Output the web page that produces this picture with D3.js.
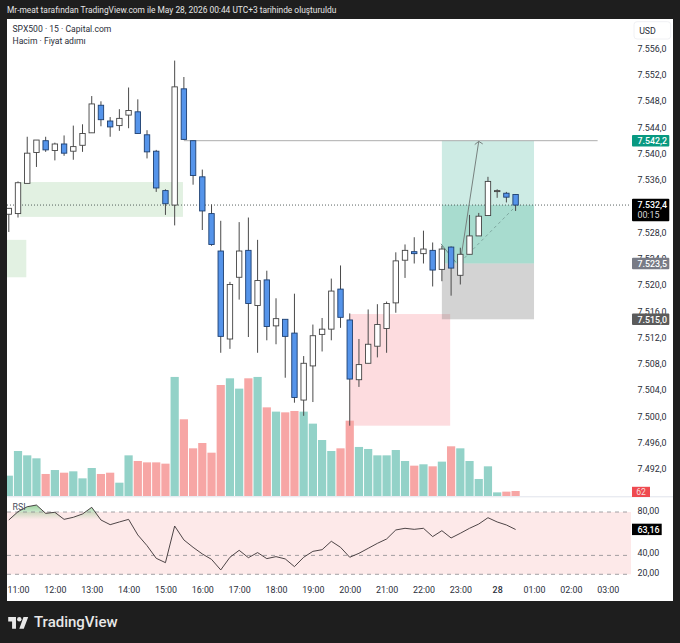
<!DOCTYPE html>
<html><head><meta charset="utf-8">
<script src="https://cdn.jsdelivr.net/npm/d3@7"></script>
<style>html,body{margin:0;padding:0;background:#1e1e1e}svg{display:block}text{font-family:Roboto,"Noto Sans",sans-serif}</style>
</head><body><svg id="c" width="680" height="643"></svg>
<script>
// first candle is 10:45, one candle per 15 minutes
const open=[7531.0,7531.1,7535.7,7540.4,7542.2,7540.7,7541.7,7540.6,7541.5,7543.4,7547.6,7545.2,7544.5,7546.1,7546.6,7543.1,7540.6,7534.6,7532.4,7550.1,7542.2,7536.7,7531.1,7525.4,7512.0,7521.4,7525.5,7517.1,7521.0,7514.0,7515.0,7512.9,7502.7,7507.9,7512.7,7513.5,7519.6,7514.9,7505.8,7508.3,7510.9,7513.6,7517.5,7524.0,7525.3,7525.0,7525.5,7522.6,7526.0,7521.7,7524.9,7527.7,7530.8,7534.5,7534.2,7534.0];
const high=[7531.9,7536.0,7542.8,7542.3,7542.8,7541.9,7543.0,7544.5,7544.7,7549.0,7548.2,7545.8,7547.0,7550.3,7548.5,7543.8,7540.8,7534.8,7554.4,7551.9,7542.2,7537.8,7532.5,7530.0,7520.7,7529.8,7530.5,7527.1,7522.4,7518.2,7515.0,7518.9,7509.4,7514.2,7515.2,7521.2,7523.2,7515.9,7512.0,7516.5,7517.3,7517.7,7525.2,7526.4,7527.5,7528.5,7526.7,7526.2,7526.1,7525.9,7530.9,7531.2,7536.7,7534.8,7534.4,7534.0];
const low=[7528.3,7530.5,7535.7,7538.2,7540.5,7539.2,7539.9,7539.3,7540.5,7543.4,7544.4,7542.8,7543.7,7544.1,7543.3,7539.5,7534.4,7530.9,7529.3,7542.3,7535.5,7528.6,7526.2,7509.9,7510.5,7518.0,7512.3,7509.9,7511.8,7511.2,7506.1,7502.3,7500.3,7502.4,7510.1,7511.8,7513.7,7498.8,7504.7,7508.3,7509.2,7509.9,7516.0,7521.3,7523.5,7523.5,7520.0,7520.8,7518.6,7520.3,7524.9,7527.7,7530.8,7533.5,7532.8,7531.5];
const close=[7531.9,7535.8,7540.3,7542.3,7540.8,7541.7,7540.3,7541.3,7543.3,7547.8,7545.4,7544.3,7545.6,7546.8,7543.3,7540.5,7535.0,7532.6,7550.4,7542.4,7536.9,7531.5,7526.4,7512.4,7520.3,7525.4,7517.4,7520.9,7513.9,7515.1,7512.4,7503.1,7508.3,7512.5,7513.5,7519.3,7515.3,7505.9,7508.1,7511.2,7514.2,7517.4,7523.9,7525.5,7525.0,7525.7,7522.5,7525.7,7522.8,7524.9,7527.7,7530.7,7536.0,7534.6,7533.6,7532.4];
const volume=[252,558,504,467,273,322,289,306,219,347,273,289,165,504,434,417,417,401,1476,951,591,657,537,1376,1459,1331,1459,1476,1099,1046,1037,1054,1046,897,694,558,591,934,608,583,504,504,570,434,376,393,368,426,616,591,434,211,368,45,54,62];
const rsi=[72.3,80.3,85.1,86.7,78.7,79.7,72.9,74.9,78.1,84.5,72.3,67.8,70.4,72.9,57.9,47.6,35.4,31.2,66.5,53.1,46.0,39.6,34.4,24.2,36.4,43.1,36.0,40.9,35.1,37.0,34.8,27.4,36.4,42.1,43.7,51.8,46.0,36.4,40.2,45.0,49.8,54.0,62.7,64.3,63.3,64.3,56.3,62.0,55.0,59.5,64.3,68.4,74.5,70.4,67.5,63.16];
const priceTicks=[7556,7552,7548,7544,7540,7536,7528,7524,7520,7516,7512,7508,7504,7500,7496,7492];
const rsiTicks=[80,40,20];
const rsiBands=[80,38.2,20];
const timeIdx=[1,5,9,13,17,21,25,29,33,37,41,45,49,53,57,61,65];
const timeLabels=["11:00","12:00","13:00","14:00","15:00","16:00","17:00","18:00","19:00","20:00","21:00","22:00","23:00","28","01:00","02:00","03:00"];
// zones: [index from, index to, price top, price bottom]
const greenZones=[[1.2,18.9,7535.9,7530.6],[-1,1.9,7527.1,7521.4]];
const pinkZone=[37,47.9,7515.8,7498.8];
const toolSpan=[47,57];
const target=7542.2, entry=7523.5, stop=7515.0, last=7532.4;
const highLine=[19,63.9,7542.2];
const arrowPts=[[46.9,7526.5],[48.5,7523.7]];
const arrowMain=[[49,7523.7],[51,7542.1]];
const dashPts=[[49,7523.7],[55,7532.2]];

const W=680,H=643,L=7,T=19,R=673,B=601,PR=631;
const svg=d3.select("#c");
const x=d3.scaleLinear().domain([0,55]).range([8.8,515.6]);
const y=d3.scaleLinear().domain([7542.2,7515]).range([140.7,319.3]);
const yV=d3.scaleLinear().domain([0,1500]).range([496,375]);
const yR=d3.scaleLinear().domain([80,20]).range([512,574.3]);
const bw=x(1)-x(0);

svg.append("rect").attr("width",W).attr("height",H).attr("fill","#1e1e1e");
svg.append("rect").attr("x",L).attr("y",T).attr("width",R-L).attr("height",B-T).attr("fill","#fff");
const defs=svg.append("defs");
defs.append("clipPath").attr("id","plot").append("rect").attr("x",L).attr("y",T).attr("width",PR-L).attr("height",B-T);
const gr=defs.append("linearGradient").attr("id","ob").attr("x1",0).attr("x2",0).attr("y1",0).attr("y2",1);
gr.append("stop").attr("offset","0%").attr("stop-color","#4caf50").attr("stop-opacity",.55);
gr.append("stop").attr("offset","100%").attr("stop-color","#4caf50").attr("stop-opacity",0);

svg.append("text").attr("x",7).attr("y",12.8).attr("fill","#e6e6e6").attr("font-size",8.4)
  .text("Mr-meat tarafından TradingView.com ile May 28, 2026 00:44 UTC+3 tarihinde oluşturuldu");

const g=svg.append("g").attr("clip-path","url(#plot)");
const zr=(sel,d,fill,op)=>sel.append("rect").attr("x",x(d[0])).attr("width",x(d[1])-x(d[0])).attr("y",y(d[2])).attr("height",y(d[3])-y(d[2])).attr("fill",fill).attr("fill-opacity",op);
greenZones.forEach(z=>zr(g,z,"#e2f1e2",1));
zr(g,pinkZone,"#fddcdf",1);

// volume
g.selectAll("rect.v").data(volume).join("rect").attr("class","v")
  .attr("x",(d,i)=>x(i)-bw/2+.5).attr("width",bw-1).attr("y",d=>yV(d)).attr("height",d=>yV(0)-yV(d))
  .attr("fill",(d,i)=>close[i]>=open[i]?"#93d2c8":"#f7a6a5");
svg.append("line").attr("x1",L).attr("x2",R).attr("y1",496.8).attr("y2",496.8).attr("stroke","#e0e3eb");

// position tool
zr(g,[toolSpan[0],toolSpan[1],target,last],"#cdebe4",1);
zr(g,[toolSpan[0],toolSpan[1],last,entry],"#a8dccf",1);
zr(g,[toolSpan[0],toolSpan[1],entry,stop],"#787878",.33);

g.append("line").attr("x1",x(highLine[0])).attr("x2",x(highLine[1])).attr("y1",y(highLine[2])).attr("y2",y(highLine[2])).attr("stroke","#adadad").attr("stroke-width",1);
g.append("line").attr("x1",L).attr("x2",PR).attr("y1",y(last)).attr("y2",y(last)).attr("stroke","#2f3a38").attr("stroke-width",.8).attr("stroke-dasharray","1 2");

const ln=d3.line().x(d=>x(d[0])).y(d=>y(d[1]));
g.append("path").attr("d",ln(arrowPts)).attr("fill","none").attr("stroke","#6f8f88").attr("stroke-width",1);
g.append("path").attr("d",ln(dashPts)).attr("fill","none").attr("stroke","#7fa8a0").attr("stroke-width",1).attr("stroke-dasharray","3 3");
g.append("path").attr("d",ln(arrowMain)).attr("fill","none").attr("stroke","#77807e").attr("stroke-width",1);
const tip=arrowMain[1];
g.append("path").attr("d",d3.line()([[x(tip[0])-4,y(tip[1])+3.2],[x(tip[0]),y(tip[1])],[x(tip[0])+4,y(tip[1])+2.6]])).attr("fill","none").attr("stroke","#77807e").attr("stroke-width",1);

// candles
const idx=d3.range(open.length);
g.selectAll("line.w").data(idx).join("line").attr("class","w")
  .attr("x1",i=>x(i)).attr("x2",i=>x(i)).attr("y1",i=>y(high[i])).attr("y2",i=>y(low[i]))
  .attr("stroke","#4a4a4a").attr("stroke-width",1);
g.selectAll("rect.b").data(idx).join("rect").attr("class","b")
  .attr("x",i=>x(i)-2.7).attr("width",5.4)
  .attr("y",i=>y(Math.max(open[i],close[i])))
  .attr("height",i=>Math.max(1,Math.abs(y(open[i])-y(close[i]))))
  .attr("fill",i=>close[i]>=open[i]?"#fff":"#5594ea")
  .attr("stroke",i=>close[i]>=open[i]?"#444":"#1d3f70").attr("stroke-width",.9);

// RSI panel
g.append("rect").attr("x",L).attr("width",PR-L).attr("y",yR(80)).attr("height",yR(20)-yR(80)).attr("fill","#fde9e9");
const obBase=73;
const obIdx=idx.filter(i=>i<=10);
g.append("path").attr("d",d3.area().x(i=>x(i)).y0(yR(obBase)).y1(i=>yR(Math.max(rsi[i],obBase)))(obIdx)).attr("fill","url(#ob)");
g.selectAll("line.rb").data(rsiBands).join("line").attr("class","rb").attr("x1",L).attr("x2",PR)
  .attr("y1",d=>yR(d)).attr("y2",d=>yR(d)).attr("stroke","#8a8a8f").attr("stroke-width",.8).attr("stroke-dasharray","4 4");
g.append("path").attr("d",d3.line().x((d,i)=>x(i)).y(d=>yR(d))(rsi)).attr("fill","none").attr("stroke","#3a3234").attr("stroke-width",.9);

// axes
const loc=d3.formatLocale({decimal:",",thousands:".",grouping:[3],currency:["",""]});
const fP=loc.format(",.1f"), fR=loc.format(".2f");
const styleAxis=a=>{a.select(".domain").remove();a.selectAll("line").remove();a.selectAll("text").attr("fill","#2a2e39").attr("font-size",8.9);};
const pa=svg.append("g").attr("transform","translate(631,-1.5)").call(d3.axisRight(y).tickValues(priceTicks).tickFormat(fP).tickSize(0).tickPadding(6.5));
styleAxis(pa);
const ra=svg.append("g").attr("transform","translate(631,-1.2)").call(d3.axisRight(yR).tickValues(rsiTicks).tickFormat(fR).tickSize(0).tickPadding(6.5));
styleAxis(ra);
const ta=svg.append("g").attr("transform","translate(0,587)").call(d3.axisBottom(x).tickValues(timeIdx).tickFormat((d,i)=>timeLabels[i]).tickSize(0).tickPadding(0));
styleAxis(ta);
ta.selectAll("text").attr("font-weight",(d,i)=>timeLabels[i]==="28"?500:400);

// USD box
svg.append("rect").attr("x",634).attr("y",21.7).attr("width",36.7).attr("height",17.3).attr("rx",3).attr("fill","#fff").attr("stroke","#f0f1f4");
svg.append("text").attr("x",647.5).attr("y",34).attr("text-anchor","middle").attr("font-size",8.8).attr("fill","#2a2e39").text("USD");

// price labels
const tag=(v,fill,h=10.6)=>{
  const yy=y(v);
  svg.append("rect").attr("x",632).attr("width",37.3).attr("y",yy-h/2-.4).attr("height",h+.8).attr("rx",1).attr("fill",fill);
  svg.append("text").attr("x",637.4).attr("y",yy+3.2).attr("fill","#fff").attr("font-size",8.9).attr("font-weight",500).text(fP(v));
};
tag(target,"#089981");
tag(entry,"#787b86");
tag(stop,"#5b5b5b");
svg.append("rect").attr("x",632).attr("width",37.3).attr("y",y(last)-6.3).attr("height",22.5).attr("rx",1).attr("fill","#000");
svg.append("text").attr("x",637.4).attr("y",y(last)+2.9).attr("fill","#fff").attr("font-size",8.9).attr("font-weight",500).text(fP(last));
svg.append("text").attr("x",637.4).attr("y",y(last)+13).attr("fill","#d8d8d8").attr("font-size",8.9).text("00:15");
// volume tag
svg.append("rect").attr("x",632).attr("width",18).attr("y",yV(volume[55])-4.2).attr("height",10.2).attr("fill","#ef4a50");
svg.append("text").attr("x",641).attr("y",yV(volume[55])+4.1).attr("text-anchor","middle").attr("fill","#f7dede").attr("font-size",8.6).text(volume[55]);
// RSI tag
const rv=rsi[rsi.length-1];
svg.append("rect").attr("x",632).attr("width",29.7).attr("y",yR(rv)-5.8).attr("height",11.4).attr("fill","#000");
svg.append("text").attr("x",637.4).attr("y",yR(rv)+3.2).attr("fill","#fff").attr("font-size",8.9).attr("font-weight",500).text(fR(rv));

// legend
const leg=[["SPX500 · 15 · Capital.com",32.2],["Hacim · Fiyat adımı",44.2]];
svg.selectAll("text.leg").data(leg).join("text").attr("class","leg").attr("x",12.5).attr("y",d=>d[1]).attr("font-size",8.6).attr("fill","#2a2e39").text(d=>d[0]);
svg.append("text").attr("x",12.5).attr("y",510).attr("font-size",8.8).attr("fill","#4a4f5c").text("RSI");

// footer logo
const lg=svg.append("g").attr("transform","translate(8.2,615.4) scale(0.556)").attr("fill","#e8e8e8");
lg.append("path").attr("d","M14 24H7V11H0V3h14v21zM28 24h-8l7.5-21H36l-8 21z");
lg.append("circle").attr("cx",20).attr("cy",7).attr("r",4);
svg.append("text").attr("x",34).attr("y",627).attr("font-size",15).attr("font-weight",500).attr("fill","#e8e8e8").text("TradingView");
</script></body></html>
